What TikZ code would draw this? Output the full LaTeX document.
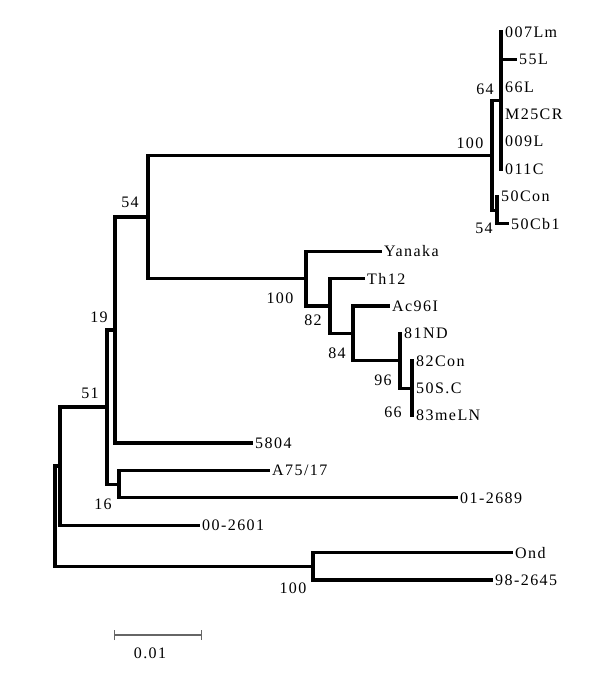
\documentclass[tikz,border=0pt]{standalone}
\usepackage{fontspec}
\setmainfont[LetterSpace=9]{Liberation Serif}
\usetikzlibrary{arrows.meta}

\begin{document}
\begin{tikzpicture}[x = 1pt, y = -1pt,
  branch/.style = {line width = 3.2pt, line join = miter},
  leaf/.style = {anchor = west, inner sep = 2pt, font = \fontsize{16}{18}\selectfont},
  boot/.style = {inner sep = 0pt, font = \fontsize{16}{18}\selectfont},
  scalebar/.style = {color = black!60, line width = 1.2pt}]
\useasboundingbox (0,0) rectangle (600,682);
% inner nodes of the tree
\coordinate (root) at (55,516);
\coordinate (nM) at (60,466);
\coordinate (nL) at (107,407);
\coordinate (nJ) at (115,330);
\coordinate (nK) at (119,484.1);
\coordinate (nI) at (148,217);
\coordinate (nC) at (492,155.3);
\coordinate (nA) at (501,100.4);
\coordinate (nB) at (497,210.1);
\coordinate (nH) at (306,278.6);
\coordinate (nG) at (330,306);
\coordinate (nF) at (353,333.4);
\coordinate (nE) at (400,360.8);
\coordinate (nD) at (412,388.2);
\coordinate (nN) at (313,566.3);
% leaves
\node[leaf] (t007Lm) at (503,32) {007Lm};
\node[leaf] (t55L) at (517,59.4) {55L};
\node[leaf] (t66L) at (503,86.8) {66L};
\node[leaf] (tM25CR) at (503,114.2) {M25CR};
\node[leaf] (t009L) at (503,141.6) {009L};
\node[leaf] (t011C) at (503,169) {011C};
\node[leaf] (t50Con) at (499,196.4) {50Con};
\node[leaf] (t50Cb1) at (509,223.8) {50Cb1};
\node[leaf] (tYanaka) at (382,251.2) {Yanaka};
\node[leaf] (tTh12) at (365,278.6) {Th12};
\node[leaf] (tAc96I) at (390,306) {Ac96I};
\node[leaf] (t81ND) at (402,333.4) {81ND};
\node[leaf] (t82Con) at (414,360.8) {82Con};
\node[leaf] (t50SC) at (414,388.2) {50S.C};
\node[leaf] (t83meLN) at (414,415.6) {83meLN};
\node[leaf] (t5804) at (253,443) {5804};
\node[leaf] (tA75) at (270,470.4) {A75/17};
\node[leaf] (t012689) at (458,497.8) {01-2689};
\node[leaf] (t002601) at (200,525.2) {00-2601};
\node[leaf] (tOnd) at (513,552.6) {Ond};
\node[leaf] (t982645) at (493,580) {98-2645};
% branches
\draw[branch] (root) |- (nM);
\draw[branch] (root) |- (nN);
\draw[branch] (nM) |- (nL);
\draw[branch] (nM) |- (t002601);
\draw[branch] (nL) |- (nJ);
\draw[branch] (nL) |- (nK);
\draw[branch] (nJ) |- (nI);
\draw[branch] (nJ) |- (t5804);
\draw[branch] (nK) |- (tA75);
\draw[branch] (nK) |- (t012689);
\draw[branch] (nI) |- (nC);
\draw[branch] (nI) |- (nH);
\draw[branch] (nC) |- (nA);
\draw[branch] (nC) |- (nB);
\foreach \t in {t007Lm,t55L,t66L,tM25CR,t009L,t011C}
  \draw[branch] (nA) |- (\t);
\draw[branch] (nB) |- (t50Con);
\draw[branch] (nB) |- (t50Cb1);
\draw[branch] (nH) |- (tYanaka);
\draw[branch] (nH) |- (nG);
\draw[branch] (nG) |- (tTh12);
\draw[branch] (nG) |- (nF);
\draw[branch] (nF) |- (tAc96I);
\draw[branch] (nF) |- (nE);
\draw[branch] (nE) |- (t81ND);
\draw[branch] (nE) |- (nD);
\foreach \t in {t82Con,t50SC,t83meLN}
  \draw[branch] (nD) |- (\t);
\draw[branch] (nN) |- (tOnd);
\draw[branch] (nN) |- (t982645);
% bootstrap values
\node[boot] (b100a) at (470,143) {100};
\node[boot] (b64) at (485,89) {64};
\node[boot] (b54a) at (484,228) {54};
\node[boot] (b54b) at (130,202) {54};
\node[boot] (b19) at (99,317) {19};
\node[boot] (b51) at (90,393) {51};
\node[boot] (b16) at (103,504) {16};
\node[boot] (b100b) at (280,298) {100};
\node[boot] (b82) at (313,320) {82};
\node[boot] (b84) at (337,353) {84};
\node[boot] (b96) at (383,380) {96};
\node[boot] (b66) at (393,412) {66};
\node[boot] (b100c) at (293,588) {100};
% scale bar
\coordinate (sbl) at (114,635);
\coordinate (sbr) at (202,635);
\draw[scalebar, {Bar[width=10pt]}-{Bar[width=10pt]}] (sbl) -- (sbr);
\node[boot] (sblabel) at (150,653) {0.01};
\end{tikzpicture}
\end{document}
